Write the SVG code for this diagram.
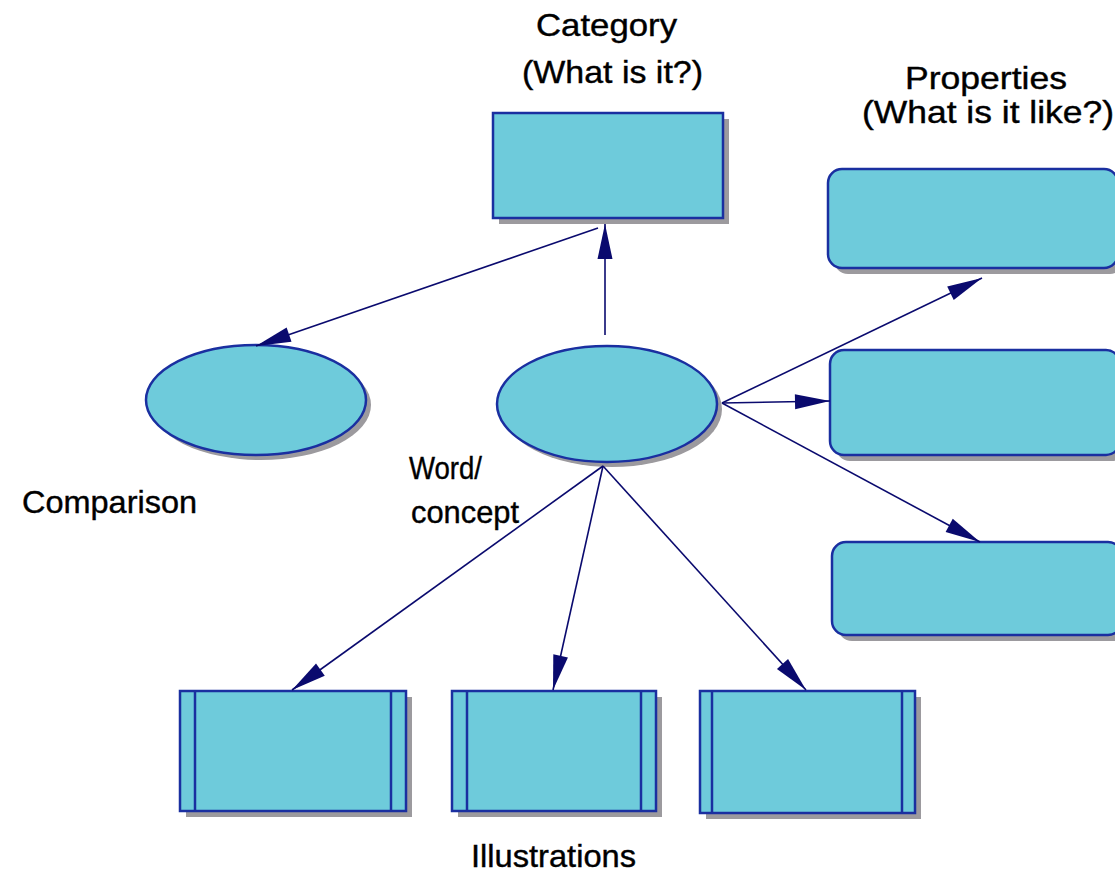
<svg xmlns="http://www.w3.org/2000/svg" width="1115" height="879" viewBox="0 0 1115 879">
<style>
.n{fill:#6ECBDB;stroke:#1A2FA0;stroke-width:2.5}
.sh{fill:#9C9A9E}
.c{stroke:#0A0A6E;stroke-width:1.6;fill:none;marker-end:url(#ah)}
.t{font-family:"Liberation Sans",Arial,sans-serif;font-size:32px;fill:#000;stroke:#000;stroke-width:0.4}
</style>
<defs>
<marker id="ah" markerUnits="userSpaceOnUse" markerWidth="40" markerHeight="20" viewBox="-30 -8 32 16" refX="0" refY="0" orient="auto">
<path d="M0,0 L-28,-6 L-28,6 Z" fill="#0A0A6E"/>
</marker>
</defs>
<rect width="1115" height="879" fill="#fff"/>
<g id="category">
<rect class="sh" x="499" y="119" width="230" height="105"/>
<rect class="n" x="493" y="113" width="230" height="105"/>
</g>
<g id="prop1">
<rect class="sh" x="834" y="175" width="290" height="99" rx="14"/>
<rect class="n" x="828" y="169" width="290" height="99" rx="14"/>
</g>
<g id="prop2">
<rect class="sh" x="836" y="356" width="290" height="105" rx="14"/>
<rect class="n" x="830" y="350" width="290" height="105" rx="14"/>
</g>
<g id="prop3">
<rect class="sh" x="838" y="548" width="290" height="93" rx="14"/>
<rect class="n" x="832" y="542" width="290" height="93" rx="14"/>
</g>
<g id="comparison">
<ellipse class="sh" cx="261" cy="405" rx="110" ry="55"/>
<ellipse class="n" cx="256" cy="400" rx="110" ry="55"/>
</g>
<g id="word">
<ellipse class="sh" cx="612" cy="409" rx="110" ry="58"/>
<ellipse class="n" cx="607" cy="404" rx="110" ry="58"/>
</g>
<g id="ill1">
<rect class="sh" x="186" y="697" width="226" height="120"/>
<rect class="n" x="180" y="691" width="226" height="120"/>
<line class="n" x1="195" y1="691" x2="195" y2="811"/>
<line class="n" x1="391" y1="691" x2="391" y2="811"/>
</g>
<g id="ill2">
<rect class="sh" x="458" y="697" width="204" height="120"/>
<rect class="n" x="452" y="691" width="204" height="120"/>
<line class="n" x1="467" y1="691" x2="467" y2="811"/>
<line class="n" x1="641" y1="691" x2="641" y2="811"/>
</g>
<g id="ill3">
<rect class="sh" x="706" y="697" width="215" height="122"/>
<rect class="n" x="700" y="691" width="215" height="122"/>
<line class="n" x1="712" y1="691" x2="712" y2="813"/>
<line class="n" x1="902" y1="691" x2="902" y2="813"/>
</g>
<g id="connectors">
<line class="c" x1="605" y1="335" x2="605" y2="224"/>
<line class="c" x1="598" y1="228" x2="256" y2="346"/>
<line class="c" x1="722" y1="403" x2="982" y2="278"/>
<line class="c" x1="722" y1="403" x2="830" y2="401"/>
<line class="c" x1="722" y1="403" x2="980" y2="542"/>
<line class="c" x1="603" y1="466" x2="292" y2="690"/>
<line class="c" x1="603" y1="466" x2="553" y2="690"/>
<line class="c" x1="603" y1="466" x2="806" y2="690"/>
</g>
<g id="labels">
<text class="t" x="536" y="36" textLength="141" lengthAdjust="spacingAndGlyphs">Category</text>
<text class="t" x="522" y="83" textLength="181" lengthAdjust="spacingAndGlyphs">(What is it?)</text>
<text class="t" x="905" y="89" textLength="162" lengthAdjust="spacingAndGlyphs">Properties</text>
<text class="t" x="862" y="123" textLength="252" lengthAdjust="spacingAndGlyphs">(What is it like?)</text>
<text class="t" x="22" y="513" textLength="175" lengthAdjust="spacingAndGlyphs">Comparison</text>
<text class="t" x="409" y="479" textLength="73" lengthAdjust="spacingAndGlyphs">Word/</text>
<text class="t" x="411" y="523" textLength="108" lengthAdjust="spacingAndGlyphs">concept</text>
<text class="t" x="471" y="867" textLength="165" lengthAdjust="spacingAndGlyphs">Illustrations</text>
</g>
</svg>
